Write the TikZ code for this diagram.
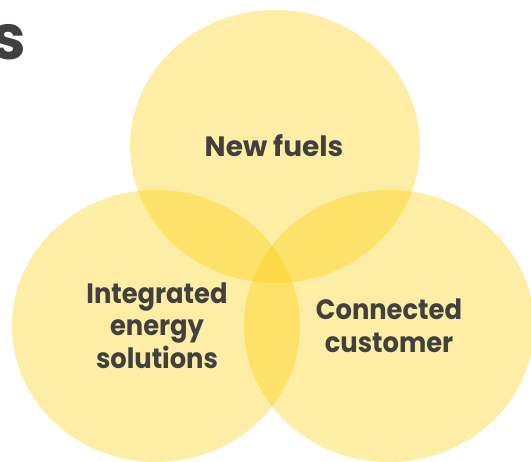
\documentclass[tikz,border=0pt]{standalone}
\usepackage{fontspec}
\setmainfont{Poppins}[BoldFont={* Bold}]
\newfontfamily\labelfont{Poppins}[BoldFont={* Bold}, FakeStretch=0.92]
\definecolor{shellyellow}{HTML}{FBCE07}
\definecolor{textgrey}{HTML}{404040}
\tikzset{
  venn/.style={fill=shellyellow, fill opacity=0.37},
  vlabel/.style={text=textgrey, inner sep=0pt, align=center,
    font=\labelfont\fontsize{28}{32.5}\selectfont\bfseries},
  widelabel/.style={vlabel, font=\fontsize{28}{32.5}\selectfont\bfseries},
}
\begin{document}
\begin{tikzpicture}[x=1pt,y=-1pt]
  \useasboundingbox (0,0) rectangle (531,462);
  \clip (0,0) rectangle (531,462);
  \fill[venn] (275,146.5) ellipse [x radius=145pt, y radius=136.5pt];
  \fill[venn] (156,326) ellipse [x radius=144pt, y radius=136pt];
  \fill[venn] (389,326) ellipse [x radius=145pt, y radius=136pt];
  \node[widelabel, anchor=base] (fuels) at (274,157) {New fuels};
  \node[vlabel] (ies) at (157,325.5) {Integrated\\energy\\solutions};
  \node[vlabel] (cc) at (389,326) {Connected\\customer};
  \node[text=textgrey, inner sep=0pt, anchor=base east,
    font=\fontsize{62}{62}\selectfont\bfseries] (title) at (26,60) {s};
\end{tikzpicture}
\end{document}
